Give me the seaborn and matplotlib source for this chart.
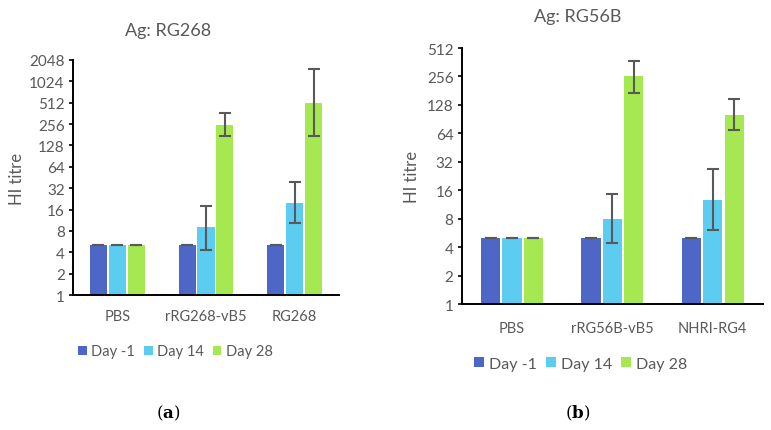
import matplotlib
matplotlib.use("Agg")
import matplotlib.pyplot as plt
import seaborn as sns
import pandas as pd
import numpy as np

days = ["Day -1", "Day 14", "Day 28"]
colors = ["#4E66C6", "#5DCCF1", "#A6E851"]

# Panel (a): Ag: RG268
groups_a = ["PBS", "rRG268-vB5", "RG268"]
vals_a = {"Day -1": [5, 5, 5], "Day 14": [5, 9, 20], "Day 28": [5, 250, 500]}
low_a = {"Day -1": [5, 5, 5], "Day 14": [5, 4.3, 10.2], "Day 28": [5, 176, 172]}
high_a = {"Day -1": [5, 5, 5], "Day 14": [5, 18, 39], "Day 28": [5, 367, 1520]}
yticks_a = [1, 2, 4, 8, 16, 32, 64, 128, 256, 512, 1024, 2048]

# Panel (b): Ag: RG56B
groups_b = ["PBS", "rRG56B-vB5", "NHRI-RG4"]
vals_b = {"Day -1": [5, 5, 5], "Day 14": [5, 7.9, 12.7], "Day 28": [5, 256, 101]}
low_b = {"Day -1": [5, 5, 5], "Day 14": [5, 4.4, 6.0], "Day 28": [5, 172, 70]}
high_b = {"Day -1": [5, 5, 5], "Day 14": [5, 14.5, 27], "Day 28": [5, 373, 148]}
yticks_b = [1, 2, 4, 8, 16, 32, 64, 128, 256, 512]

plt.rcParams["font.family"] = ["Lato", "DejaVu Sans"]
plt.rcParams["mathtext.fontset"] = "dejavuserif"
gray = "#595959"

fig = plt.figure(figsize=(7.71, 4.31), dpi=100)
ax_a = fig.add_axes([0.0947, 0.3132, 0.3450, 0.5453])
ax_b = fig.add_axes([0.5990, 0.2923, 0.3906, 0.5940])


def draw(ax, groups, vals, low, high, yticks, title, letter, cx, lx, title_y,
         legend_y, letter_y, ylabel_x, xpad, legsize, colsp):
    rows = []
    for d in days:
        for g, v in zip(groups, vals[d]):
            rows.append({"group": g, "day": d, "value": v})
    df = pd.DataFrame(rows)
    sns.barplot(data=df, x="group", y="value", hue="day", hue_order=days,
                order=groups, palette=colors, width=0.64, gap=0.1,
                errorbar=None, ax=ax, saturation=1, legend=True)
    ax.set_yscale("log", base=2)
    ax.set_ylim(yticks[0], yticks[-1])
    ax.set_xlim(-0.5, 2.5)
    for i, d in enumerate(days):
        cont = ax.containers[i]
        xs = [p.get_x() + p.get_width() / 2 for p in cont.patches]
        v = np.array(vals[d], dtype=float)
        lo = v - np.array(low[d], dtype=float)
        hi = np.array(high[d], dtype=float) - v
        ax.errorbar(xs, v, yerr=[lo, hi], fmt="none", ecolor=gray,
                    elinewidth=1.5, capsize=4, capthick=1.5, zorder=5)
    ax.set_yticks(yticks)
    ax.set_yticklabels([str(t) for t in yticks])
    ax.minorticks_off()
    ax.tick_params(axis="y", length=3, width=1.2, color="black",
                   labelsize=11, labelcolor=gray, pad=3)
    ax.tick_params(axis="x", length=0, labelsize=10.5, labelcolor=gray, pad=xpad)
    for s in ["top", "right"]:
        ax.spines[s].set_visible(False)
    for s in ["left", "bottom"]:
        ax.spines[s].set_color("black")
        ax.spines[s].set_linewidth(1.4)
    ax.set_xlabel("")
    ax.set_ylabel("HI titre", fontsize=12, color=gray)
    ax.yaxis.set_label_coords(ylabel_x, 0.5)
    ax.set_title(title, fontsize=13, color=gray, x=cx, y=title_y, pad=0)
    ax.set_facecolor("white")
    ax.legend(loc="upper center", bbox_to_anchor=(lx, legend_y), ncol=3,
              frameon=False, handlelength=0.6, handleheight=0.6,
              handletextpad=0.3, columnspacing=colsp,
              prop={"size": legsize}, labelcolor=gray)
    ax.text(cx, letter_y, "(" + r"$\mathbf{" + letter + "}$" + ")",
            transform=ax.transAxes, ha="center", va="center", fontsize=12,
            family="DejaVu Serif")


draw(ax_a, groups_a, vals_a, low_a, high_a, yticks_a, "Ag: RG268", "a",
     0.357, 0.385, 1.106, -0.154, -0.498, -0.181, 10, 10.5, 0.6)
draw(ax_b, groups_b, vals_b, low_b, high_b, yticks_b, "Ag: RG56B", "b",
     0.385, 0.395, 1.105, -0.151, -0.422, -0.14, 12.5, 11.5, 0.6)

fig.savefig("out.png", dpi=100, facecolor="white")
